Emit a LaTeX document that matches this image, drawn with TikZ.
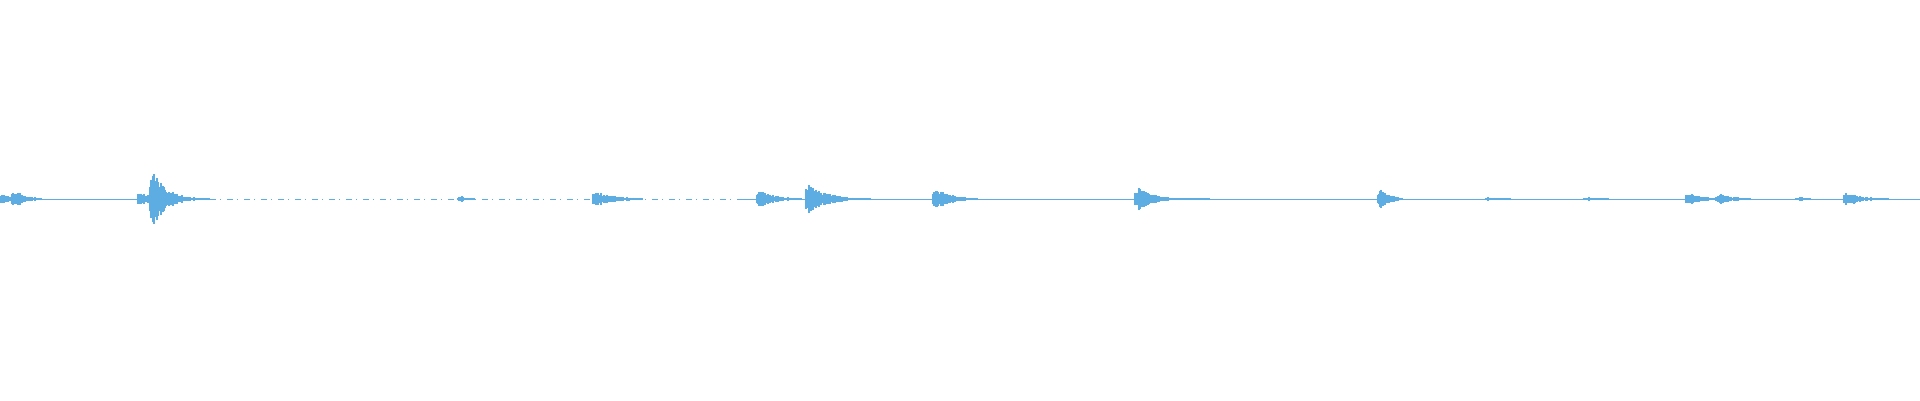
\documentclass[tikz,border=0pt]{standalone}
\definecolor{wave}{HTML}{5DADE2}
\newcommand\wburst[4]{%
  \foreach \k in {-4,...,#4} {%
    \pgfmathsetmacro\hh{max(1,#2*exp(-abs(\k)/#3)*(0.5+0.5*rnd))}%
    \draw[wave,line width=1.1pt] ({#1+\k},{199-\hh}) -- ({#1+\k},{199+\hh});
  }}
\begin{document}
\begin{tikzpicture}[x=1pt,y=-1pt]
\useasboundingbox (0,0) rectangle (1920,400);
\pgfmathsetseed{7}
\fill[white] (0,0) rectangle (1920,400);
\tikzset{base/.style={wave,line width=1pt}}
\draw[base] (0,199) -- (210,199);
\draw[base,dash pattern=on 6pt off 4pt on 1pt off 6pt] (210,199) -- (740,199);
\draw[base] (740,199) -- (1920,199);
\wburst{1}{5}{20}{30}
\wburst{16}{8}{12}{25}
\wburst{142}{6}{25}{20}
\wburst{154}{29}{14}{55}
\wburst{462}{3}{10}{12}
\wburst{597}{7}{22}{45}
\wburst{761}{8}{18}{40}
\wburst{810}{15}{18}{60}
\wburst{937}{10}{16}{40}
\wburst{1139}{11}{18}{70}
\wburst{1382}{10}{10}{20}
\wburst{1490}{2}{10}{20}
\wburst{1588}{2}{10}{20}
\wburst{1690}{6}{16}{30}
\wburst{1720}{5}{16}{30}
\wburst{1800}{2}{8}{10}
\wburst{1848}{7}{16}{40}
\end{tikzpicture}
\end{document}
